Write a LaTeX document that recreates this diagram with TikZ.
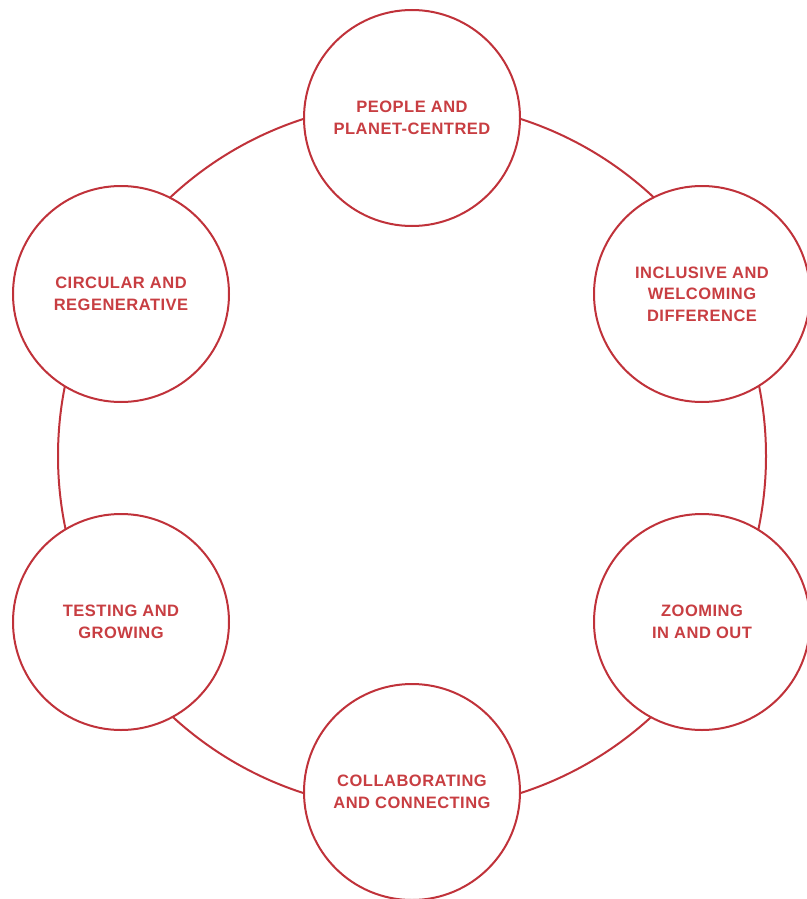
\documentclass[tikz,border=0pt]{standalone}
\usepackage{fontspec}
\setmainfont{Liberation Sans}
\definecolor{ringred}{RGB}{192,50,58}
\definecolor{textred}{RGB}{200,62,66}
\begin{document}
\begin{tikzpicture}[x=1pt,y=-1pt,
  value/.style={circle, draw=ringred, line width=2pt, fill=white,
    minimum size=216pt, inner sep=0pt, align=center, text=textred,
    font=\fontsize{16.5}{21.5}\selectfont\bfseries\addfontfeature{LetterSpace=3}},
  ring/.style={draw=ringred, line width=2pt}]
\useasboundingbox (0,0) rectangle (806,899);
\coordinate (c) at (412,456);
\draw[ring] (c) circle (354pt);
\node[value] (people) at (412,118) {PEOPLE AND\\PLANET-CENTRED};
\node[value] (incl) at (702,294) {INCLUSIVE AND\\WELCOMING\\DIFFERENCE};
\node[value] (zoom) at (702,622) {ZOOMING\\IN AND OUT};
\node[value] (collab) at (412,792) {COLLABORATING\\AND CONNECTING};
\node[value] (test) at (121,622) {TESTING AND\\GROWING};
\node[value] (circ) at (121,294) {CIRCULAR AND\\REGENERATIVE};
\end{tikzpicture}
\end{document}
